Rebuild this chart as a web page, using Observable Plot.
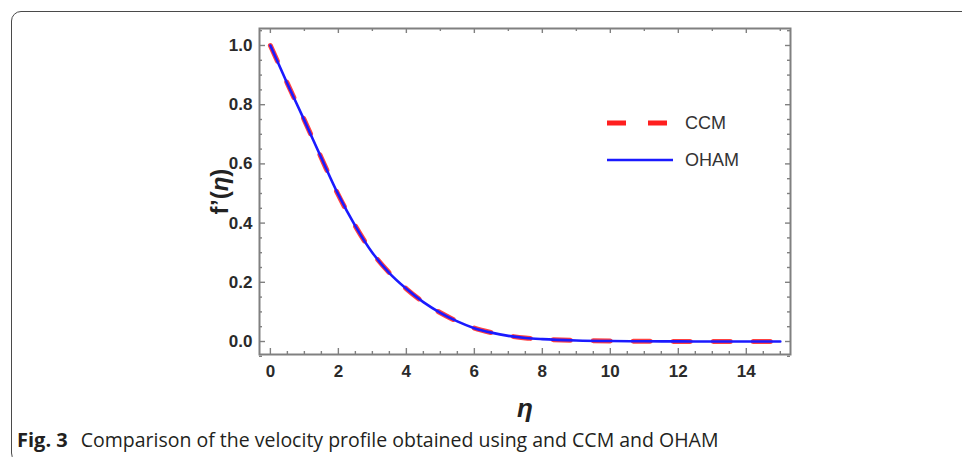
<!DOCTYPE html>
<html><head><meta charset="utf-8">
<script src="https://cdn.jsdelivr.net/npm/d3@7"></script>
<script src="https://cdn.jsdelivr.net/npm/@observablehq/plot@0.6"></script>
<style>
html,body{margin:0;padding:0;background:#fff;width:962px;height:457px;overflow:hidden;}
#wrap{position:relative;width:962px;height:457px;}
#chart{position:absolute;left:0;top:0;}
#border{position:absolute;left:11px;top:11px;width:1000px;height:452px;border:1.3px solid #4a4a4a;border-radius:10px;box-sizing:border-box;pointer-events:none;}
#caption{position:absolute;left:17px;top:427px;font-family:"Open Sans",sans-serif;font-size:19.5px;line-height:26px;color:#231f20;white-space:nowrap;letter-spacing:0px;}
#caption b{font-weight:700;margin-right:13px;font-size:20px;}
#legend{position:absolute;left:600px;top:108px;font-family:"Liberation Sans",Arial,sans-serif;font-size:18px;color:#333;}
.leg{position:absolute;left:0;display:flex;align-items:center;white-space:nowrap;}
.leg svg{display:block;margin-right:12px;}
</style>
</head><body>
<div id="wrap">
<div id="chart"></div>
<div id="legend"></div>
<div id="border"></div>
<div id="caption"></div>
</div>
<script>
// ---- data ----
const eta  = [0, 0.5, 1, 1.5, 2, 2.5, 3, 3.5, 4, 4.5, 5, 5.5, 6, 6.5, 7, 7.5, 8, 9, 10, 11, 12, 13, 14, 15];
const ccm  = [1.0, 0.872, 0.748, 0.62, 0.495, 0.39, 0.30, 0.232, 0.178, 0.133, 0.097, 0.068, 0.045, 0.03, 0.019, 0.012, 0.008, 0.0035, 0.0015, 0.0007, 0.0003, 0.0001, 0.0, 0.0];
const oham = [1.0, 0.871, 0.747, 0.62, 0.496, 0.39, 0.30, 0.231, 0.178, 0.133, 0.097, 0.068, 0.045, 0.03, 0.019, 0.012, 0.008, 0.0035, 0.0015, 0.0007, 0.0003, 0.0001, 0.0, 0.0];
const seriesNames = ["CCM", "OHAM"];
const seriesColors = ["#ff1f1f", "#1a1aff"];
const xTickLabels = [0, 2, 4, 6, 8, 10, 12, 14];
const yTickLabels = [0.0, 0.2, 0.4, 0.6, 0.8, 1.0];
const xLabel = "η";
const yLabel = "f’(η)";
const captionBold = "Fig. 3";
const captionText = "Comparison of the velocity profile obtained using and CCM and OHAM";

// ---- layout ----
const W = 962, H = 457;
const mL = 259, mR = 172, mT = 28, mB = 103;
const xDom = [-0.32, 15.3];
const yDom = [-0.0439, 1.0574];
const kx = (W - mL - mR) / (xDom[1] - xDom[0]);
const ky = (H - mT - mB) / (yDom[1] - yDom[0]);
const yMid = (yDom[0] + yDom[1]) / 2;

const ccmData = eta.map((e, i) => ({eta: e, f: ccm[i]}));
const ohamData = eta.map((e, i) => ({eta: e, f: oham[i]}));

const xMajor = d3.range(0, 15.01, 2);
const xMinor = d3.range(0, 15.01, 0.5).filter(v => v % 2 !== 0);
const xTopMajor = d3.range(0, 15.01, 2);
const xTopMinor = d3.range(1, 15.01, 2);
const yMajor = d3.range(0, 1.001, 0.2);
const yMinor = d3.range(-0.05, 1.051, 0.05).filter(v => Math.abs(Math.round(v * 5) - v * 5) > 1e-6);

const tc = "#808080";
const tickBottom = (vals, len) => Plot.ruleX(vals, {x: d => d, y1: yDom[0], y2: yDom[0] + len / ky, stroke: tc, strokeWidth: 1.4});
const tickTop = (vals, len) => Plot.ruleX(vals, {x: d => d, y1: yDom[1], y2: yDom[1] - len / ky, stroke: tc, strokeWidth: 1.4});
const tickLeft = (vals, len) => Plot.ruleY(vals, {y: d => d, x1: xDom[0], x2: xDom[0] + len / kx, stroke: tc, strokeWidth: 1.4});
const tickRight = (vals, len) => Plot.ruleY(vals, {y: d => d, x1: xDom[1], x2: xDom[1] - len / kx, stroke: tc, strokeWidth: 1.4});

const plot = Plot.plot({
  width: W, height: H,
  marginLeft: mL, marginRight: mR, marginTop: mT, marginBottom: mB,
  x: {domain: xDom},
  y: {domain: yDom},
  style: {fontFamily: "'Liberation Sans', Arial, sans-serif", background: "transparent", color: "#222"},
  marks: [
    Plot.axisX(xTickLabels, {tickSize: 0, tickPadding: 10, fontSize: 17, fontWeight: "bold", label: null, fill: "#2a2a2a"}),
    Plot.axisY(yTickLabels, {tickSize: 0, tickPadding: 7, fontSize: 17, fontWeight: "bold", label: null, tickFormat: d3.format(".1f"), fill: "#2a2a2a"}),
    tickBottom(xMajor, 6), tickBottom(xMinor, 3),
    tickTop(xTopMajor, 5), tickTop(xTopMinor, 3),
    tickLeft(yMajor, 6), tickLeft(yMinor, 3),
    tickRight(yMajor, 5), tickRight(yMinor, 3),
    Plot.line(ccmData, {x: "eta", y: "f", stroke: seriesColors[0], strokeWidth: 5, strokeDasharray: "17,23", curve: "monotone-x", strokeOpacity: 0.85}),
    Plot.line(ohamData, {x: "eta", y: "f", stroke: seriesColors[1], strokeWidth: 2.6, curve: "monotone-x"}),
    Plot.frame({stroke: tc, strokeWidth: 2}),
    Plot.text([xLabel], {text: d => d, x: (xDom[0] + xDom[1]) / 2, y: yDom[0] - 54 / ky, fontSize: 26, fontStyle: "italic", fontWeight: "bold", fill: "#222"}),
    Plot.text([yLabel], {text: d => d, x: xDom[0] - 39 / kx, y: yMid, rotate: -90, fontSize: 24, fontWeight: "bold", fill: "#222"})
  ]
});
document.getElementById("chart").appendChild(plot);

// Italicise the eta in the y label
d3.select(plot).selectAll("text").filter(function () { return this.textContent === yLabel; }).each(function () {
  const t = d3.select(this);
  t.text(null);
  t.append("tspan").text("f’(");
  t.append("tspan").attr("font-style", "italic").text("η");
  t.append("tspan").text(")");
});

// legend
const legend = d3.select("#legend");
seriesNames.forEach((name, i) => {
  const row = legend.append("div").attr("class", "leg").style("top", (i * 37) + "px");
  const svg = row.append("svg").attr("width", 73).attr("height", 30);
  svg.append("line").attr("x1", 7).attr("x2", 73).attr("y1", 15).attr("y2", 15)
    .attr("stroke", seriesColors[i]).attr("stroke-width", i === 0 ? 5 : 2.6)
    .attr("stroke-dasharray", i === 0 ? "19,22" : null);
  row.append("span").text(name);
});

// caption
const cap = d3.select("#caption");
cap.append("b").text(captionBold);
cap.append("span").text(captionText);
</script>
</body></html>
